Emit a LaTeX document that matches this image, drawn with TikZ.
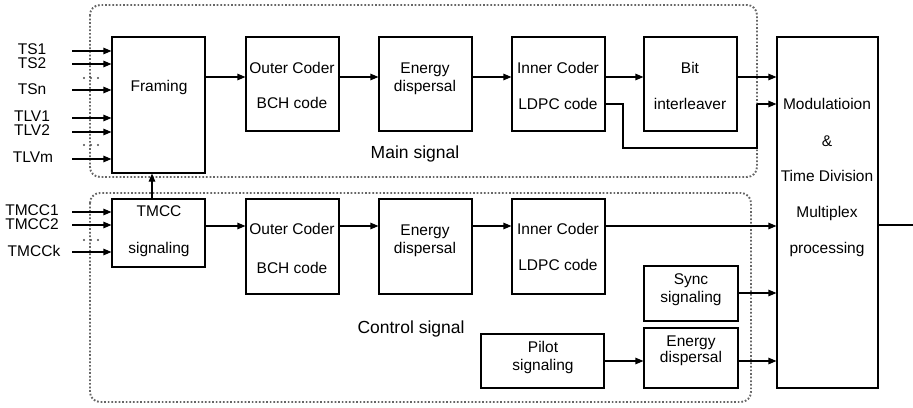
\documentclass[tikz,border=0pt]{standalone}
\usepackage{fontspec}
\setmainfont{Liberation Sans}
\usetikzlibrary{arrows.meta,fit}
\begin{document}
\begin{tikzpicture}[x=1pt,y=-1pt,
  box/.style={draw, line width=1.1pt, inner sep=0pt},
  txt/.style={inner sep=0pt, text height=11pt, text depth=0pt, font=\fontsize{15.5}{18}\selectfont},
  biglbl/.style={inner sep=0pt, text height=12.5pt, text depth=0pt, font=\fontsize{17.5}{20}\selectfont},
  arr/.style={line width=1.1pt, -{Triangle[length=8pt,width=6.5pt]}},
  ln/.style={line width=1.1pt},
  dotbox/.style={draw=black!60, line width=1.9pt, dash pattern=on 1.7pt off 1.9pt, rounded corners=10pt},
  dotmark/.style={circle, fill=black!70, inner sep=0pt, minimum size=2.2pt}]
\useasboundingbox (0,0) rectangle (913,407);

% dotted groups
\draw[dotbox] (90,5) rectangle (757,177);
\draw[dotbox] (90,193) rectangle (751,402);

% boxes
\node[box, fit={(112,37) (205,173)}] (fr) {};
\node[box, fit={(112,199) (205,267)}] (tm) {};
\node[box, fit={(246,37) (339,131)}] (oc1) {};
\node[box, fit={(379,37) (472,131)}] (ed1) {};
\node[box, fit={(512,37) (605,131)}] (ic1) {};
\node[box, fit={(644,37) (737,131)}] (bi) {};
\node[box, fit={(777,37) (878,388)}] (mod) {};
\node[box, fit={(246,199) (339,294)}] (oc2) {};
\node[box, fit={(379,199) (472,294)}] (ed2) {};
\node[box, fit={(512,199) (605,294)}] (ic2) {};
\node[box, fit={(644,266) (738,321)}] (sy) {};
\node[box, fit={(644,328) (738,388)}] (ed3) {};
\node[box, fit={(481,334) (604,388)}] (pi) {};

% box texts
\node[txt] (tfr) at (159,86) {Framing};
\node[txt] (ttm1) at (159,211) {TMCC};
\node[txt] (ttm2) at (159,248) {signaling};
\node[txt] (toc1a) at (292,68) {Outer Coder};
\node[txt] (toc1b) at (292,103) {BCH code};
\node[txt] (ted1a) at (425,68) {Energy};
\node[txt] (ted1b) at (425,86) {dispersal};
\node[txt] (tic1a) at (558,68) {Inner Coder};
\node[txt] (tic1b) at (558,104) {LDPC code};
\node[txt] (tbia) at (690,68) {Bit};
\node[txt] (tbib) at (690,104) {interleaver};
\node[txt] (tm1) at (827,104) {Modulatioion};
\node[txt] (tm2) at (827,141) {\&};
\node[txt] (tm3) at (827,176) {Time Division};
\node[txt] (tm4) at (827,212) {Multiplex};
\node[txt] (tm5) at (827,248) {processing};
\node[txt] (toc2a) at (292,229) {Outer Coder};
\node[txt] (toc2b) at (292,268) {BCH code};
\node[txt] (ted2a) at (425,230) {Energy};
\node[txt] (ted2b) at (425,248) {dispersal};
\node[txt] (tic2a) at (558,229) {Inner Coder};
\node[txt] (tic2b) at (558,265) {LDPC code};
\node[txt] (tsya) at (691,279) {Sync};
\node[txt] (tsyb) at (691,297) {signaling};
\node[txt] (ted3a) at (691,341) {Energy};
\node[txt] (ted3b) at (691,357) {dispersal};
\node[txt] (tpia) at (543,347) {Pilot};
\node[txt] (tpib) at (543,365) {signaling};
\node[biglbl] (lmain) at (415,152) {Main signal};
\node[biglbl] (lctrl) at (411,327) {Control signal};

% input labels
\node[txt] (lts1) at (32,49) {TS1};
\node[txt] (lts2) at (32,63) {TS2};
\node[txt] (ltsn) at (32,89) {TSn};
\node[txt] (ltlv1) at (32,116) {TLV1};
\node[txt] (ltlv2) at (32,130) {TLV2};
\node[txt] (ltlvm) at (33,157) {TLVm};
\node[txt] (ltm1) at (32,210) {TMCC1};
\node[txt] (ltm2) at (32,224) {TMCC2};
\node[txt] (ltmk) at (34,251) {TMCCk};

% input arrows
\foreach \n/\y in {a/51,b/64,c/90,d/118,e/132,f/159}{
  \coordinate (in\n) at (72,\y);
  \draw[arr] (in\n) -- (fr.west |- in\n);
}
\foreach \n/\y in {g/212,h/225,i/252}{
  \coordinate (in\n) at (72,\y);
  \draw[arr] (in\n) -- (tm.west |- in\n);
}
% ellipsis dots
\foreach \y/\k in {78/p,145/q,240/r}{
  \node[dotmark] (d1\k) at (84,\y) {};
  \node[dotmark] (d2\k) at (91,\y) {};
  \node[dotmark] (d3\k) at (98,\y) {};
}

% TMCC up to framing
\coordinate (up) at (152,0);
\draw[arr] (tm.north -| up) -- (fr.south -| up);

% main chain
\coordinate (r1) at (0,77);
\draw[arr] (fr.east |- r1) -- (oc1.west |- r1);
\draw[arr] (oc1.east |- r1) -- (ed1.west |- r1);
\draw[arr] (ed1.east |- r1) -- (ic1.west |- r1);
\draw[arr] (ic1.east |- r1) -- (bi.west |- r1);
\draw[arr] (bi.east |- r1) -- (mod.west |- r1);
\coordinate (r2) at (0,104);
\coordinate (k1) at (623,104);
\coordinate (k2) at (623,148);
\coordinate (k3) at (757,148);
\coordinate (k4) at (757,104);
\draw[ln] (ic1.east |- r2) -- (k1) -- (k2) -- (k3) -- (k4);
\draw[arr] (k4) -- (mod.west |- r2);

% control chain
\coordinate (r3) at (0,226);
\draw[arr] (tm.east |- r3) -- (oc2.west |- r3);
\draw[arr] (oc2.east |- r3) -- (ed2.west |- r3);
\draw[arr] (ed2.east |- r3) -- (ic2.west |- r3);
\draw[arr] (ic2.east |- r3) -- (mod.west |- r3);
\coordinate (r4) at (0,293);
\draw[arr] (sy.east |- r4) -- (mod.west |- r4);
\coordinate (r5) at (0,361);
\draw[arr] (pi.east |- r5) -- (ed3.west |- r5);
\draw[arr] (ed3.east |- r5) -- (mod.west |- r5);

% output
\coordinate (r6) at (0,225);
\coordinate (outend) at (913,225);
\draw[ln] (mod.east |- r6) -- (outend);
\end{tikzpicture}
\end{document}
